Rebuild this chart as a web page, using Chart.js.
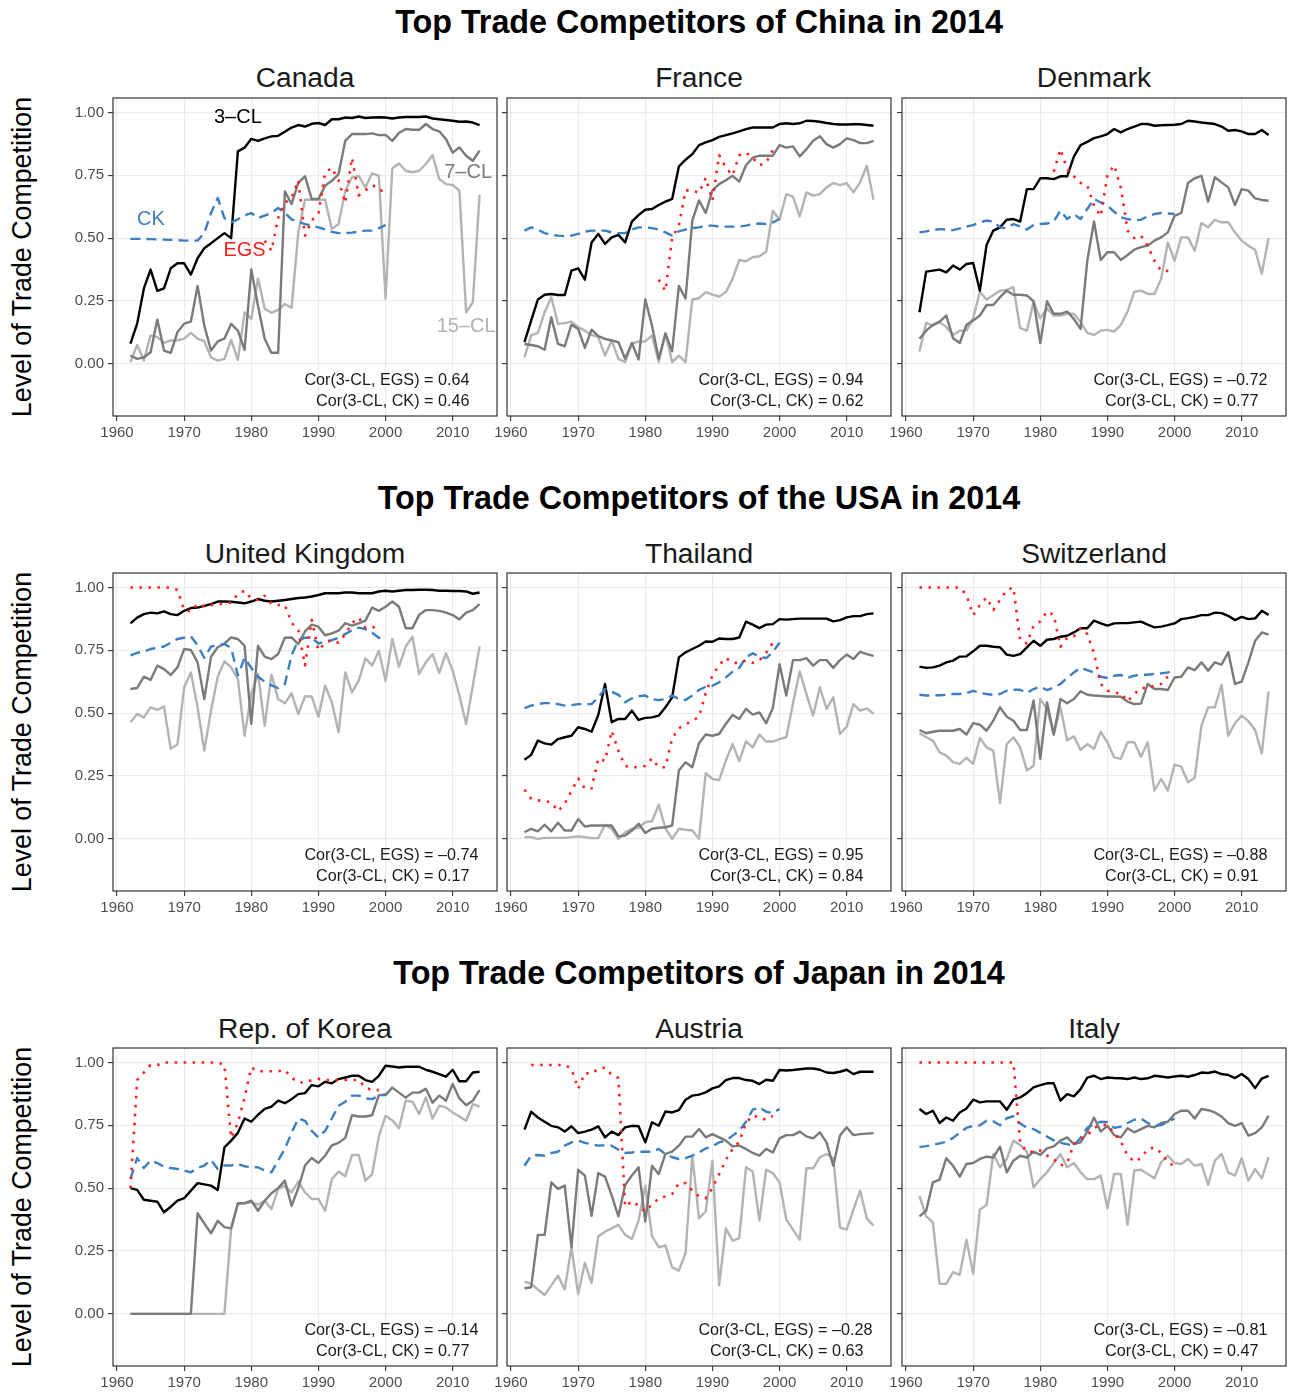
<!DOCTYPE html>
<html>
<head>
<meta charset="utf-8">
<script src="https://cdn.jsdelivr.net/npm/chart.js@4.4.0/dist/chart.umd.min.js"></script>
<style>
  body { margin: 0; background: #fff; width: 1291px; height: 1395px; position: relative; overflow: hidden;
         font-family: "Liberation Sans", Arial, Helvetica, sans-serif; }
  .main { position: absolute; left: 699px; transform: translate(-50%, -50%); font-weight: bold; font-size: 32.3px; white-space: nowrap; line-height: 1; }
  .ptitle { position: absolute; transform: translate(-50%, -50%); font-size: 28.2px; white-space: nowrap; line-height: 1; color: #1a1a1a; }
  .ytitle { position: absolute; left: 22px; transform: translate(-50%, -50%) rotate(-90deg); font-size: 26.8px; white-space: nowrap; line-height: 1; }
  canvas { position: absolute; }
</style>
</head>
<body>
<script>
// ---- data ----
const years = [1962,1963,1964,1965,1966,1967,1968,1969,1970,1971,1972,1973,1974,1975,1976,1977,1978,1979,1980,1981,
  1982,1983,1984,1985,1986,1987,1988,1989,1990,1991,1992,1993,1994,1995,1996,1997,1998,1999,2000,2001,
  2002,2003,2004,2005,2006,2007,2008,2009,2010,2011,2012,2013,2014];
const xTickValues = [1960, 1970, 1980, 1990, 2000, 2010];
const yTickValues = [0, 0.25, 0.5, 0.75, 1];

// China: Canada
const canada3CL = [0.08,0.16,0.30,0.375,0.29,0.30,0.38,0.40,0.40,0.355,0.42,0.46,0.48,0.50,0.52,0.50,0.845,0.86,0.895,0.887,
  0.897,0.905,0.907,0.923,0.94,0.95,0.944,0.955,0.958,0.95,0.973,0.973,0.98,0.978,0.984,0.978,0.98,0.981,0.98,0.976,
  0.98,0.982,0.982,0.982,0.984,0.976,0.973,0.97,0.967,0.963,0.964,0.96,0.95];
const canada7CL = [0.033,0.02,0.026,0.046,0.176,0.053,0.044,0.126,0.16,0.168,0.31,0.152,0.053,0.089,0.10,0.159,0.132,0.056,0.375,0.23,
  0.10,0.044,0.044,0.686,0.636,0.72,0.746,0.656,0.656,0.709,0.728,0.755,0.887,0.914,0.914,0.914,0.917,0.91,0.911,0.887,
  0.918,0.934,0.931,0.931,0.954,0.934,0.925,0.894,0.84,0.861,0.828,0.808,0.848];
const canada15CL = [0.007,0.075,0.013,0.113,0.106,0.083,0.093,0.093,0.10,0.123,0.10,0.09,0.026,0.013,0.02,0.095,0.016,0.205,0.179,0.34,
  0.219,0.203,0.215,0.238,0.223,0.523,0.653,0.653,0.653,0.653,0.536,0.556,0.689,0.742,0.748,0.702,0.758,0.748,0.258,0.777,
  0.797,0.768,0.762,0.768,0.795,0.83,0.735,0.715,0.711,0.689,0.205,0.245,0.672];
const canadaEGS = [0.49,0.45,0.58,0.64,0.66,0.73,0.51,0.57,0.60,0.76,0.78,0.73,0.64,0.82,0.67,0.69,0.71,0.70,0.67];
const canadaCK = [0.497,0.497,0.497,0.496,0.495,0.494,0.493,0.492,0.49,0.49,0.49,0.52,0.60,0.66,0.58,0.563,0.575,0.59,0.60,0.58,
  0.59,0.60,0.62,0.60,0.575,0.565,0.556,0.55,0.543,0.535,0.525,0.52,0.52,0.522,0.526,0.53,0.53,0.54,0.552];

// China: France
const france3CL = [0.086,0.172,0.256,0.275,0.278,0.274,0.274,0.371,0.38,0.335,0.483,0.517,0.477,0.503,0.513,0.483,0.566,0.592,0.613,0.616,
  0.632,0.645,0.656,0.785,0.812,0.834,0.870,0.881,0.89,0.903,0.91,0.917,0.925,0.934,0.94,0.94,0.94,0.94,0.954,0.957,
  0.954,0.957,0.967,0.966,0.963,0.958,0.954,0.952,0.952,0.953,0.953,0.95,0.947];
const france7CL = [0.079,0.075,0.07,0.056,0.185,0.079,0.07,0.156,0.139,0.064,0.136,0.11,0.099,0.093,0.086,0.02,0.083,0.017,0.256,0.152,
  0.02,0.12,0.05,0.31,0.26,0.57,0.65,0.60,0.69,0.715,0.73,0.748,0.725,0.79,0.82,0.828,0.828,0.828,0.87,0.86,
  0.865,0.825,0.854,0.887,0.905,0.874,0.86,0.874,0.897,0.89,0.878,0.878,0.887];
const france15CL = [0.026,0.113,0.123,0.205,0.265,0.159,0.162,0.168,0.146,0.132,0.115,0.106,0.033,0.093,0.02,0.007,0.079,0.089,0.089,0.113,
  0.007,0.123,0.007,0.033,0.007,0.256,0.261,0.285,0.275,0.268,0.285,0.338,0.413,0.408,0.424,0.428,0.446,0.609,0.573,0.675,
  0.665,0.587,0.682,0.669,0.675,0.702,0.719,0.711,0.719,0.682,0.722,0.788,0.653];
const franceEGS = [0.335,0.29,0.50,0.55,0.69,0.69,0.68,0.74,0.65,0.83,0.78,0.75,0.83,0.84,0.82,0.79,0.80,0.85];
const franceCK = [0.53,0.543,0.534,0.52,0.513,0.51,0.508,0.51,0.517,0.526,0.53,0.53,0.53,0.523,0.52,0.52,0.534,0.543,0.543,0.54,
  0.534,0.523,0.51,0.527,0.534,0.54,0.543,0.55,0.55,0.546,0.546,0.546,0.546,0.55,0.556,0.558,0.556,0.563,0.576];

// China: Denmark
const denmark3CL = [0.205,0.367,0.371,0.375,0.364,0.391,0.375,0.397,0.401,0.291,0.473,0.53,0.543,0.573,0.576,0.566,0.695,0.695,0.738,0.738,
  0.735,0.746,0.746,0.824,0.87,0.883,0.898,0.905,0.914,0.934,0.921,0.934,0.944,0.954,0.954,0.947,0.949,0.95,0.951,0.954,
  0.967,0.964,0.96,0.957,0.954,0.944,0.927,0.93,0.925,0.914,0.914,0.93,0.91];
const denmark7CL = [0.10,0.132,0.155,0.168,0.192,0.102,0.083,0.155,0.172,0.192,0.234,0.234,0.265,0.291,0.275,0.275,0.272,0.249,0.083,0.249,
  0.199,0.199,0.208,0.179,0.139,0.41,0.566,0.413,0.444,0.444,0.413,0.433,0.454,0.464,0.47,0.49,0.503,0.523,0.589,0.6,
  0.719,0.738,0.748,0.645,0.742,0.722,0.702,0.632,0.695,0.689,0.658,0.652,0.649];
const denmark15CL = [0.049,0.163,0.152,0.166,0.146,0.115,0.132,0.132,0.181,0.287,0.256,0.274,0.291,0.294,0.305,0.142,0.132,0.245,0.181,0.221,
  0.192,0.192,0.199,0.199,0.166,0.123,0.115,0.132,0.135,0.128,0.155,0.208,0.287,0.291,0.278,0.278,0.338,0.483,0.41,0.503,
  0.503,0.45,0.56,0.543,0.573,0.563,0.563,0.523,0.49,0.47,0.454,0.358,0.5];
const denmarkEGS = [0.764,0.854,0.775,0.746,0.72,0.71,0.63,0.587,0.75,0.79,0.70,0.53,0.50,0.51,0.47,0.41,0.37,0.37,0.37];
const denmarkCK = [0.523,0.527,0.532,0.536,0.534,0.532,0.539,0.546,0.552,0.563,0.57,0.566,0.543,0.539,0.556,0.546,0.534,0.552,0.556,0.558,
  0.566,0.609,0.576,0.596,0.576,0.616,0.656,0.642,0.629,0.605,0.583,0.576,0.572,0.573,0.587,0.596,0.6,0.598,0.596];

// USA: United Kingdom
const uk3CL = [0.857,0.88,0.894,0.9,0.897,0.905,0.894,0.89,0.907,0.918,0.92,0.927,0.934,0.944,0.944,0.943,0.94,0.937,0.944,0.954,
  0.947,0.944,0.947,0.95,0.954,0.958,0.96,0.964,0.97,0.977,0.977,0.977,0.98,0.98,0.977,0.977,0.977,0.984,0.987,0.984,
  0.987,0.99,0.99,0.991,0.991,0.99,0.987,0.987,0.986,0.986,0.984,0.975,0.98];
const uk7CL = [0.596,0.6,0.645,0.632,0.689,0.675,0.652,0.682,0.755,0.751,0.702,0.556,0.725,0.762,0.777,0.801,0.795,0.768,0.457,0.768,
  0.725,0.715,0.735,0.8,0.801,0.775,0.825,0.852,0.844,0.81,0.817,0.828,0.858,0.848,0.857,0.868,0.92,0.907,0.923,0.944,
  0.923,0.838,0.838,0.891,0.91,0.91,0.907,0.9,0.89,0.873,0.9,0.91,0.934];
const uk15CL = [0.464,0.497,0.483,0.523,0.513,0.526,0.358,0.375,0.603,0.662,0.523,0.351,0.51,0.645,0.706,0.682,0.636,0.41,0.576,0.656,
  0.45,0.653,0.556,0.539,0.579,0.497,0.566,0.566,0.486,0.609,0.543,0.424,0.662,0.583,0.629,0.718,0.689,0.748,0.629,0.795,
  0.685,0.765,0.804,0.656,0.702,0.735,0.66,0.738,0.669,0.57,0.457,0.609,0.765];
const ukEGS = [1,1,1,1,1,1,1,0.99,0.91,0.905,0.934,0.925,0.93,0.934,0.935,0.94,0.975,0.987,0.955,0.95,
  0.967,0.935,0.93,0.93,0.86,0.83,0.69,0.87,0.75,0.78,0.79,0.78,0.815,0.858,0.88,0.84,0.838,0.855];
const ukCK = [0.73,0.74,0.745,0.755,0.76,0.765,0.78,0.795,0.80,0.805,0.77,0.72,0.765,0.77,0.775,0.76,0.65,0.72,0.68,0.645,
  0.625,0.61,0.60,0.615,0.73,0.79,0.80,0.80,0.777,0.785,0.79,0.80,0.815,0.83,0.84,0.834,0.82,0.80,0.79];

// USA: Thailand
const thailand3CL = [0.315,0.334,0.391,0.38,0.375,0.397,0.404,0.41,0.444,0.437,0.426,0.493,0.616,0.464,0.477,0.477,0.51,0.473,0.481,0.483,
  0.49,0.523,0.563,0.722,0.742,0.755,0.768,0.785,0.784,0.797,0.795,0.795,0.801,0.864,0.852,0.838,0.852,0.854,0.874,0.872,
  0.874,0.876,0.876,0.876,0.876,0.876,0.865,0.87,0.881,0.886,0.886,0.894,0.897];
const thailand7CL = [0.026,0.04,0.03,0.056,0.03,0.064,0.033,0.033,0.079,0.049,0.053,0.053,0.053,0.053,0.01,0.013,0.033,0.06,0.023,0.04,
  0.044,0.046,0.053,0.272,0.305,0.285,0.38,0.415,0.41,0.417,0.457,0.493,0.477,0.517,0.494,0.503,0.46,0.52,0.695,0.57,
  0.711,0.711,0.719,0.689,0.711,0.711,0.68,0.711,0.733,0.715,0.744,0.735,0.728];
const thailand15CL = [0.007,0.007,0.0,0.004,0.004,0.004,0.004,0.007,0.01,0.007,0.003,0.003,0.056,0.04,0.0,0.026,0.04,0.044,0.066,0.07,
  0.136,0.042,0.0,0.04,0.036,0.033,0.0,0.261,0.238,0.234,0.311,0.377,0.309,0.388,0.364,0.415,0.387,0.387,0.397,0.404,
  0.539,0.666,0.576,0.49,0.603,0.517,0.563,0.417,0.446,0.536,0.51,0.519,0.497];
const thailandEGS = [0.195,0.16,0.153,0.15,0.145,0.11,0.14,0.19,0.24,0.20,0.20,0.32,0.31,0.43,0.35,0.29,0.285,0.285,0.29,0.32,
  0.285,0.285,0.40,0.44,0.455,0.47,0.485,0.58,0.65,0.69,0.72,0.70,0.70,0.71,0.70,0.71,0.74,0.78];
const thailandCK = [0.52,0.53,0.536,0.54,0.54,0.536,0.53,0.532,0.536,0.536,0.536,0.563,0.596,0.585,0.573,0.543,0.559,0.567,0.57,0.556,
  0.552,0.556,0.57,0.556,0.552,0.57,0.592,0.605,0.609,0.623,0.642,0.665,0.68,0.722,0.738,0.725,0.719,0.742,0.781];

// USA: Switzerland
const swiss3CL = [0.685,0.68,0.682,0.689,0.702,0.709,0.725,0.726,0.746,0.768,0.768,0.764,0.762,0.733,0.728,0.735,0.762,0.788,0.768,0.792,
  0.795,0.804,0.808,0.821,0.838,0.838,0.868,0.857,0.848,0.857,0.858,0.858,0.861,0.864,0.852,0.841,0.844,0.85,0.857,0.874,
  0.878,0.883,0.89,0.89,0.9,0.898,0.887,0.87,0.883,0.874,0.877,0.907,0.891];
const swiss7CL = [0.433,0.42,0.426,0.43,0.43,0.43,0.437,0.415,0.46,0.454,0.43,0.47,0.523,0.486,0.47,0.433,0.433,0.55,0.318,0.543,
  0.415,0.556,0.539,0.556,0.587,0.573,0.57,0.568,0.566,0.566,0.565,0.546,0.536,0.538,0.616,0.596,0.596,0.592,0.642,0.645,
  0.682,0.671,0.702,0.669,0.702,0.693,0.742,0.616,0.625,0.702,0.788,0.821,0.812];
const swiss15CL = [0.42,0.404,0.391,0.344,0.331,0.305,0.298,0.322,0.298,0.401,0.364,0.351,0.142,0.377,0.404,0.364,0.272,0.291,0.556,0.517,
  0.415,0.523,0.391,0.408,0.354,0.377,0.358,0.426,0.384,0.324,0.318,0.384,0.384,0.327,0.384,0.192,0.238,0.192,0.295,0.287,
  0.225,0.243,0.45,0.523,0.523,0.613,0.41,0.46,0.49,0.468,0.433,0.34,0.587];
const swissEGS = [1,1,1,1,1,1,1,0.97,0.89,0.93,0.96,0.91,0.95,0.99,1.0,0.79,0.777,0.848,0.865,0.905,
  0.89,0.764,0.80,0.805,0.838,0.815,0.738,0.616,0.59,0.58,0.58,0.547,0.576,0.60,0.60,0.61,0.616,0.645];
const swissCK = [0.573,0.57,0.571,0.571,0.573,0.576,0.576,0.58,0.589,0.58,0.576,0.573,0.576,0.589,0.593,0.593,0.58,0.596,0.605,0.592,
  0.602,0.616,0.64,0.662,0.68,0.671,0.662,0.645,0.64,0.649,0.652,0.64,0.649,0.653,0.653,0.656,0.658,0.662,0.671];

// Japan: Rep. of Korea
const korea3CL = [0.50,0.493,0.454,0.45,0.446,0.404,0.426,0.45,0.46,0.49,0.52,0.515,0.51,0.493,0.662,0.689,0.72,0.777,0.764,0.792,
  0.815,0.824,0.848,0.838,0.854,0.874,0.878,0.91,0.905,0.923,0.917,0.934,0.94,0.947,0.947,0.93,0.923,0.947,0.987,0.984,
  0.98,0.983,0.983,0.983,0.971,0.963,0.954,0.944,0.971,0.925,0.925,0.96,0.963];
const korea7CL = [0,0,0,0,0,0,0,0,0,0,0.40,0.36,0.32,0.37,0.345,0.34,0.44,0.44,0.45,0.41,
  0.45,0.48,0.50,0.53,0.43,0.50,0.59,0.62,0.60,0.63,0.67,0.68,0.70,0.79,0.785,0.785,0.79,0.87,0.87,0.90,
  0.88,0.86,0.88,0.88,0.895,0.84,0.868,0.848,0.914,0.857,0.83,0.848,0.89];
const korea15CL = [0,0,0,0,0,0,0,0,0,0,0,0,0,0,0,0.34,0.437,0.44,0.444,0.434,
  0.45,0.417,0.497,0.51,0.483,0.526,0.483,0.457,0.457,0.41,0.536,0.566,0.547,0.632,0.632,0.53,0.556,0.706,0.788,0.77,
  0.738,0.848,0.844,0.795,0.861,0.777,0.828,0.821,0.801,0.785,0.768,0.834,0.824];
const koreaEGS = [0.50,0.93,0.96,0.99,0.99,1,1,1,1,1,1,1,1,1,0.99,0.70,0.76,0.86,0.98,0.965,
  0.965,0.965,0.965,0.97,0.94,0.92,0.92,0.93,0.935,0.93,0.93,0.93,0.93,0.93,0.93,0.90,0.89,0.89];
const koreaCK = [0.537,0.62,0.58,0.61,0.60,0.585,0.58,0.576,0.57,0.563,0.58,0.59,0.612,0.576,0.59,0.59,0.596,0.587,0.583,0.583,
  0.57,0.563,0.61,0.656,0.72,0.777,0.768,0.728,0.702,0.728,0.777,0.828,0.844,0.868,0.868,0.857,0.854,0.868,0.874];

// Japan: Austria
const austria3CL = [0.733,0.804,0.781,0.764,0.748,0.742,0.725,0.746,0.719,0.725,0.733,0.746,0.702,0.725,0.711,0.742,0.748,0.746,0.682,0.762,
  0.748,0.805,0.801,0.81,0.852,0.868,0.872,0.881,0.897,0.905,0.93,0.938,0.938,0.93,0.927,0.914,0.931,0.927,0.97,0.968,
  0.97,0.973,0.976,0.976,0.971,0.96,0.958,0.963,0.971,0.954,0.963,0.963,0.963];
const austria7CL = [0.102,0.106,0.314,0.314,0.523,0.497,0.51,0.265,0.573,0.55,0.39,0.56,0.546,0.47,0.388,0.513,0.55,0.583,0.367,0.589,
  0.556,0.636,0.645,0.669,0.705,0.705,0.735,0.702,0.715,0.702,0.689,0.666,0.669,0.656,0.64,0.629,0.656,0.642,0.698,0.711,
  0.711,0.725,0.706,0.698,0.722,0.682,0.589,0.709,0.742,0.711,0.715,0.717,0.719];
const austria15CL = [0.128,0.119,0.097,0.075,0.113,0.152,0.097,0.265,0.079,0.203,0.123,0.309,0.327,0.34,0.354,0.314,0.298,0.371,0.51,0.309,
  0.265,0.272,0.185,0.172,0.242,0.629,0.38,0.407,0.609,0.113,0.34,0.291,0.301,0.583,0.566,0.371,0.573,0.56,0.523,0.375,
  0.335,0.295,0.579,0.579,0.623,0.636,0.619,0.344,0.335,0.415,0.49,0.38,0.351];
const austriaEGS = [0.99,0.99,0.99,0.99,0.99,0.99,0.975,0.895,0.958,0.955,0.975,0.98,0.95,0.938,0.426,0.448,0.43,0.407,0.434,0.46,
  0.467,0.477,0.519,0.52,0.49,0.467,0.46,0.50,0.556,0.612,0.656,0.685,0.759,0.79,0.78,0.772,0.788];
const austriaCK = [0.589,0.629,0.632,0.629,0.64,0.645,0.669,0.682,0.689,0.68,0.675,0.669,0.671,0.669,0.653,0.64,0.642,0.645,0.645,0.645,
  0.656,0.636,0.623,0.616,0.619,0.629,0.642,0.658,0.666,0.682,0.689,0.709,0.728,0.764,0.812,0.821,0.804,0.799,0.815];

// Japan: Italy
const italy3CL = [0.815,0.795,0.808,0.759,0.781,0.768,0.801,0.817,0.852,0.841,0.845,0.845,0.845,0.812,0.852,0.861,0.878,0.901,0.91,0.917,
  0.917,0.848,0.874,0.865,0.894,0.94,0.947,0.934,0.94,0.938,0.937,0.934,0.94,0.934,0.937,0.947,0.944,0.94,0.944,0.947,
  0.943,0.95,0.96,0.958,0.964,0.954,0.95,0.938,0.954,0.934,0.898,0.936,0.947];
const italy7CL = [0.388,0.41,0.523,0.534,0.619,0.589,0.546,0.596,0.6,0.616,0.625,0.622,0.665,0.563,0.609,0.629,0.622,0.645,0.632,0.658,
  0.666,0.689,0.702,0.675,0.682,0.725,0.781,0.725,0.748,0.711,0.702,0.738,0.722,0.735,0.748,0.742,0.759,0.764,0.795,0.808,
  0.808,0.777,0.815,0.81,0.801,0.785,0.759,0.748,0.759,0.709,0.719,0.742,0.788];
const italy15CL = [0.468,0.388,0.364,0.119,0.119,0.166,0.155,0.295,0.159,0.415,0.433,0.636,0.583,0.616,0.689,0.672,0.645,0.503,0.536,0.563,
  0.6,0.636,0.583,0.6,0.563,0.536,0.536,0.55,0.42,0.556,0.556,0.354,0.57,0.573,0.556,0.539,0.603,0.629,0.6,0.596,
  0.616,0.589,0.596,0.513,0.609,0.636,0.563,0.55,0.619,0.53,0.576,0.539,0.623];
const italyEGS = [1,1,1,1,1,1,1,1,1,1,1,1,1,1,1,0.68,0.645,0.645,0.65,0.63,
  0.616,0.59,0.60,0.675,0.695,0.71,0.74,0.75,0.752,0.719,0.685,0.63,0.605,0.62,0.655,0.662,0.64,0.603,0.587];
const italyCK = [0.663,0.667,0.672,0.678,0.684,0.70,0.72,0.74,0.748,0.75,0.768,0.766,0.75,0.778,0.786,0.757,0.74,0.735,0.72,0.705,
  0.69,0.68,0.675,0.669,0.70,0.74,0.755,0.764,0.762,0.74,0.745,0.759,0.772,0.777,0.759,0.748,0.751,0.764,0.777];

const corEGS = ['0.64', '0.94', '–0.72', '–0.74', '0.95', '–0.88', '–0.14', '–0.28', '–0.81'];
const corCK = ['0.46', '0.62', '0.77', '0.17', '0.84', '0.91', '0.77', '0.63', '0.47'];

// ---- layout ----
const FONT = '"Liberation Sans", Arial, Helvetica, sans-serif';
Chart.defaults.font.family = FONT;
const COLORS = { cl3: '#000000', cl7: '#7a7a7a', cl15: '#b3b3b3', egs: '#ff1f1f', ck: '#3a7fc1' };
const rowTop = [98, 573, 1048];
const colLeft = [113, 507, 902];
const PW = 384, PH = 318;
const rowTitles = ['Top Trade Competitors of China in 2014', 'Top Trade Competitors of the USA in 2014', 'Top Trade Competitors of Japan in 2014'];

const panels = [
  { row: 0, col: 0, name: 'Canada', cl3: canada3CL, cl7: canada7CL, cl15: canada15CL, egs: canadaEGS, egsStart: 1982, ck: canadaCK, labels: true },
  { row: 0, col: 1, name: 'France', cl3: france3CL, cl7: france7CL, cl15: france15CL, egs: franceEGS, egsStart: 1982, ck: franceCK },
  { row: 0, col: 2, name: 'Denmark', cl3: denmark3CL, cl7: denmark7CL, cl15: denmark15CL, egs: denmarkEGS, egsStart: 1982, ck: denmarkCK },
  { row: 1, col: 0, name: 'United Kingdom', cl3: uk3CL, cl7: uk7CL, cl15: uk15CL, egs: ukEGS, egsStart: 1962, ck: ukCK },
  { row: 1, col: 1, name: 'Thailand', cl3: thailand3CL, cl7: thailand7CL, cl15: thailand15CL, egs: thailandEGS, egsStart: 1962, ck: thailandCK },
  { row: 1, col: 2, name: 'Switzerland', cl3: swiss3CL, cl7: swiss7CL, cl15: swiss15CL, egs: swissEGS, egsStart: 1962, ck: swissCK },
  { row: 2, col: 0, name: 'Rep. of Korea', cl3: korea3CL, cl7: korea7CL, cl15: korea15CL, egs: koreaEGS, egsStart: 1962, ck: koreaCK },
  { row: 2, col: 1, name: 'Austria', cl3: austria3CL, cl7: austria7CL, cl15: austria15CL, egs: austriaEGS, egsStart: 1963, ck: austriaCK },
  { row: 2, col: 2, name: 'Italy', cl3: italy3CL, cl7: italy7CL, cl15: italy15CL, egs: italyEGS, egsStart: 1962, ck: italyCK }
];

// direct labels drawn in the Canada panel (data coordinates)
const seriesLabels = [
  { text: '3–CL', x: 1978, y: 0.979, color: COLORS.cl3 },
  { text: '7–CL', x: 2012.3, y: 0.76, color: COLORS.cl7 },
  { text: 'CK', x: 1965.05, y: 0.574, color: COLORS.ck },
  { text: 'EGS', x: 1979, y: 0.45, color: COLORS.egs },
  { text: '15–CL', x: 2012, y: 0.148, color: COLORS.cl15 }
];

function series(vals, start) {
  const i0 = years.indexOf(start);
  return vals.map((v, i) => ({ x: years[i0 + i], y: v }));
}

function addText(cls, text, x, y) {
  const d = document.createElement('div');
  d.className = cls;
  d.textContent = text;
  if (x !== null) d.style.left = x + 'px';
  d.style.top = y + 'px';
  document.body.appendChild(d);
}

// fixed axis sizes, no automatic label padding
function fixSize(dim, size) {
  return s => {
    s[dim] = size;
    s.paddingTop = 0; s.paddingBottom = 0; s.paddingLeft = 0; s.paddingRight = 0;
  };
}

const panelDecor = {
  id: 'panelDecor',
  afterDatasetsDraw(chart, args, opts) {
    const { ctx, chartArea: a, scales: { x, y } } = chart;
    ctx.save();
    ctx.textBaseline = 'middle';
    if (opts.labels) {
      ctx.font = '20px ' + FONT;
      ctx.textAlign = 'center';
      seriesLabels.forEach(l => {
        ctx.fillStyle = l.color;
        ctx.fillText(l.text, x.getPixelForValue(l.x), y.getPixelForValue(l.y));
      });
    }
    ctx.font = '16.2px ' + FONT;
    ctx.fillStyle = '#1a1a1a';
    ctx.textAlign = 'left';
    const ax = x.getPixelForValue(2012.5);
    const lines = ['Cor(3-CL, EGS) = ' + opts.corEGS, 'Cor(3-CL, CK) = ' + opts.corCK];
    const ly = [-0.068, -0.148];
    lines.forEach((t, i) => {
      const w = ctx.measureText(t.replace('–', '')).width;
      ctx.fillText(t, ax - w, y.getPixelForValue(ly[i]));
    });
    ctx.strokeStyle = '#333333';
    ctx.lineWidth = 1.2;
    ctx.strokeRect(a.left, a.top, a.right - a.left, a.bottom - a.top);
    ctx.restore();
  }
};

rowTitles.forEach((t, r) => {
  addText('main', t, null, 22 + r * 475.5);
  addText('ytitle', 'Level of Trade Competition', null, rowTop[r] + PH / 2);
});

panels.forEach((p, idx) => {
  addText('ptitle', p.name, colLeft[p.col] + PW / 2, 77 + p.row * 475.5);

  const yw = p.col === 0 ? 60 : 24;
  const pt = 4, pr = 4, xh = 28;
  const w = yw + PW + pr, h = pt + PH + xh;
  const cv = document.createElement('canvas');
  cv.width = w; cv.height = h;
  cv.style.left = (colLeft[p.col] - yw) + 'px';
  cv.style.top = (rowTop[p.row] - pt) + 'px';
  cv.style.width = w + 'px'; cv.style.height = h + 'px';
  document.body.appendChild(cv);

  const line = (data, color, width, dash, order) => ({
    data, borderColor: color, borderWidth: width, borderDash: dash, order,
    pointRadius: 0, tension: 0, fill: false, borderJoinStyle: 'round'
  });

  new Chart(cv, {
    type: 'line',
    data: {
      datasets: [
        line(series(p.cl15, 1962), COLORS.cl15, 2.4, [], 5),
        line(series(p.cl7, 1962), COLORS.cl7, 2.4, [], 4),
        line(series(p.cl3, 1962), COLORS.cl3, 2.4, [], 3),
        line(series(p.ck, 1962), COLORS.ck, 2.4, [10, 6], 2),
        line(series(p.egs, p.egsStart), COLORS.egs, 2.6, [2.5, 6.5], 1)
      ]
    },
    options: {
      responsive: false,
      animation: false,
      layout: { padding: { top: pt, right: pr, left: 0, bottom: 0 }, autoPadding: false },
      plugins: {
        legend: { display: false },
        tooltip: { enabled: false },
        panelDecor: { labels: !!p.labels, corEGS: corEGS[idx], corCK: corCK[idx] }
      },
      scales: {
        x: {
          type: 'linear', min: 1959.4, max: 2016.6,
          afterBuildTicks: s => { s.ticks = xTickValues.map(v => ({ value: v })); },
          afterFit: fixSize('height', xh),
          ticks: { callback: v => String(v), autoSkip: false, maxRotation: 0, padding: 3, color: '#4d4d4d', font: { size: 15 } },
          grid: { color: '#ebebeb', lineWidth: 1.2, tickColor: '#333333', tickWidth: 1.1, tickLength: 5 },
          border: { display: false }
        },
        y: {
          type: 'linear', min: -0.2075, max: 1.0575,
          afterBuildTicks: s => { s.ticks = yTickValues.map(v => ({ value: v })); },
          afterFit: fixSize('width', yw),
          ticks: { display: p.col === 0, callback: v => v.toFixed(2), padding: 4, color: '#4d4d4d', font: { size: 15 } },
          grid: { color: '#ebebeb', lineWidth: 1.2, tickColor: '#333333', tickWidth: 1.1, tickLength: 5 },
          border: { display: false }
        }
      }
    },
    plugins: [panelDecor]
  });
});
</script>
</body>
</html>
